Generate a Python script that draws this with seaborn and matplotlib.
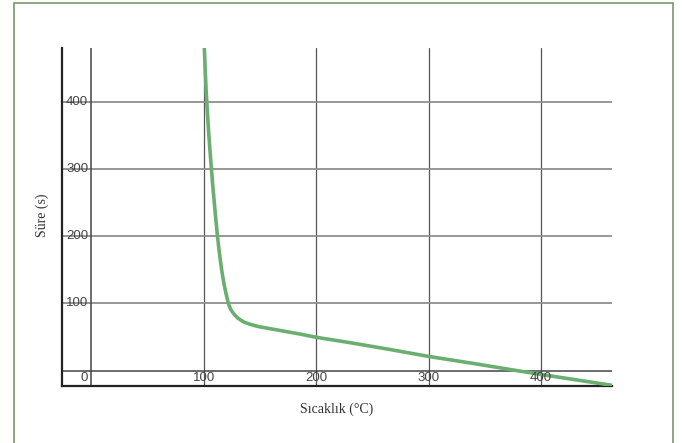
import numpy as np
import pandas as pd
import matplotlib
matplotlib.use('Agg')
import matplotlib.pyplot as plt
import seaborn as sns
from matplotlib.patches import Rectangle

# curve (temperature in C, time in s)
temp = [100.3, 100.8, 101.5, 102.2, 102.9, 103.8, 104.8, 105.9, 107.0, 108.2,
        109.4, 110.7, 112.0, 113.3, 114.7, 116.2, 117.8, 119.5, 121.0, 122.5,
        124.0, 126.0, 128.0, 130.0, 133.0, 136.0, 140.0, 145.0, 150.0, 160.0,
        170.0, 185.0, 200.0, 230.0, 265.0, 300.0, 340.0, 378.0, 420.0, 463.0]
time_s = [490, 470, 440, 415, 395, 370, 345, 320, 297, 272,
          250, 226, 204, 184, 165, 147, 131, 117, 106, 97,
          91, 86, 82, 78.5, 75, 72, 69.5, 67, 65, 62,
          59, 54.5, 49.5, 41.5, 31.5, 21, 10.5, 0, -11, -22]

x_ticks = [100, 200, 300, 400]
y_ticks = [100, 200, 300, 400]
x_label = 'Sıcaklık (°C)'
y_label = 'Süre (s)'

df = pd.DataFrame({'temp': temp, 'time': time_s})

sns.set_theme(style='white')
plt.rcParams['font.family'] = ['Liberation Sans', 'DejaVu Sans']

fig = plt.figure(figsize=(6.82, 4.43), dpi=100)
ax = fig.add_axes([62 / 682, 57 / 443, 550 / 682, 338 / 443])

ax.set_xlim(-26, 463)
ax.set_ylim(-23, 480)

ax.set_xticks(x_ticks)
ax.set_yticks(y_ticks)
ax.set_xticklabels([])
ax.set_yticklabels([])
ax.tick_params(length=0)
ax.xaxis.grid(True, color='#555555', linewidth=0.9)
ax.yaxis.grid(True, color='#8f8f8f', linewidth=1.3)
ax.set_axisbelow(True)

ax.axhline(0, color='#444444', linewidth=1.1, zorder=1)
ax.axvline(0, color='#444444', linewidth=1.1, zorder=1)

for s in ['top', 'right']:
    ax.spines[s].set_visible(False)
for s in ['left', 'bottom']:
    ax.spines[s].set_color('#222222')
    ax.spines[s].set_linewidth(1.6)

sns.lineplot(data=df, x='temp', y='time', sort=False, estimator=None,
             color='#6aaf6f', linewidth=2.6, ax=ax, zorder=3)

for v in y_ticks:
    ax.text(-2.7, v, str(v), ha='right', va='center', fontsize=9.5, color='#444444')
for v in x_ticks:
    ax.text(v, -11, str(v), ha='center', va='center', fontsize=9.5, color='#444444')
ax.text(-2.7, -11, '0', ha='right', va='center', fontsize=9.5, color='#444444')

ax.set_xlabel('')
ax.set_ylabel('')
fig.text(337 / 682, 1 - 409 / 443, x_label, ha='center', va='center',
         fontsize=10, color='#333333', family=['Liberation Serif', 'DejaVu Serif'])
fig.text(42 / 682, 1 - 215 / 443, y_label, ha='center', va='center', rotation=90,
         fontsize=10, color='#333333', family=['Liberation Serif', 'DejaVu Serif'])

fig.patches.append(Rectangle((14 / 682, -0.05), (673 - 14) / 682, 1.05 - 3.5 / 443,
                             transform=fig.transFigure, fill=False,
                             edgecolor='#7a9868', linewidth=1.2))

fig.savefig('out.png', dpi=100)
